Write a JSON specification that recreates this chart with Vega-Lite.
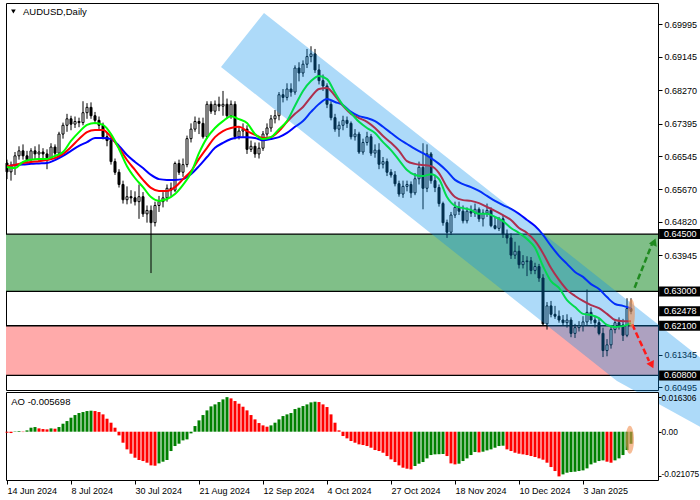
{
"$schema":"https://vega.github.io/schema/vega-lite/v6.json",
"padding":{"left":2,"top":2,"right":0,"bottom":0},
"background":"white",
"spacing":2,
"bounds":"flush",
"config":{"view":{"stroke":"#000000","strokeWidth":1},"axis":{"labelFont":"Liberation Sans","labelFontSize":9,"labelColor":"#000000","tickColor":"#000000","domain":false,"grid":false,"zindex":1},"text":{"font":"Liberation Sans"}},
"resolve":{"scale":{"x":"independent","y":"independent","color":"independent"}},
"datasets":{
"candles":[
{"i":0,"o":0.6636,"h":0.6645,"l":0.6594,"c":0.6613},{"i":1,"o":0.6613,"h":0.6640,"l":0.6590,"c":0.6630},{"i":2,"o":0.6630,"h":0.6665,"l":0.6605,"c":0.6655},{"i":3,"o":0.6655,"h":0.6680,"l":0.6645,"c":0.6668},{"i":4,"o":0.6668,"h":0.6685,"l":0.6645,"c":0.6655},{"i":5,"o":0.6655,"h":0.6668,"l":0.6635,"c":0.6645},{"i":6,"o":0.6645,"h":0.6675,"l":0.6640,"c":0.6668},{"i":7,"o":0.6668,"h":0.6680,"l":0.6645,"c":0.6660},{"i":8,"o":0.6660,"h":0.6685,"l":0.6642,"c":0.6665},{"i":9,"o":0.6665,"h":0.6675,"l":0.6648,"c":0.6660},
{"i":10,"o":0.6660,"h":0.6672,"l":0.6620,"c":0.6650},{"i":11,"o":0.6650,"h":0.6688,"l":0.6645,"c":0.6678},{"i":12,"o":0.6678,"h":0.6685,"l":0.6650,"c":0.6662},{"i":13,"o":0.6662,"h":0.6718,"l":0.6655,"c":0.6712},{"i":14,"o":0.6712,"h":0.6742,"l":0.6700,"c":0.6735},{"i":15,"o":0.6735,"h":0.6765,"l":0.6718,"c":0.6752},{"i":16,"o":0.6752,"h":0.6760,"l":0.6722,"c":0.6738},{"i":17,"o":0.6738,"h":0.6758,"l":0.6728,"c":0.6745},{"i":18,"o":0.6745,"h":0.6755,"l":0.6730,"c":0.6742},{"i":19,"o":0.6742,"h":0.6798,"l":0.6735,"c":0.6768},
{"i":20,"o":0.6768,"h":0.6793,"l":0.6752,"c":0.6782},{"i":21,"o":0.6782,"h":0.6795,"l":0.6752,"c":0.6760},{"i":22,"o":0.6760,"h":0.6770,"l":0.6738,"c":0.6748},{"i":23,"o":0.6748,"h":0.6758,"l":0.6725,"c":0.6735},{"i":24,"o":0.6735,"h":0.6742,"l":0.6698,"c":0.6705},{"i":25,"o":0.6705,"h":0.6715,"l":0.6680,"c":0.6695},{"i":26,"o":0.6695,"h":0.6698,"l":0.6632,"c":0.6640},{"i":27,"o":0.6640,"h":0.6648,"l":0.6605,"c":0.6612},{"i":28,"o":0.6612,"h":0.6620,"l":0.6572,"c":0.6580},{"i":29,"o":0.6580,"h":0.6590,"l":0.6530,"c":0.6540},
{"i":30,"o":0.6540,"h":0.6575,"l":0.6528,"c":0.6548},{"i":31,"o":0.6548,"h":0.6565,"l":0.6530,"c":0.6545},{"i":32,"o":0.6545,"h":0.6562,"l":0.6525,"c":0.6535},{"i":33,"o":0.6535,"h":0.6580,"l":0.6490,"c":0.6548},{"i":34,"o":0.6548,"h":0.6560,"l":0.6495,"c":0.6503},{"i":35,"o":0.6503,"h":0.6525,"l":0.6480,"c":0.6512},{"i":36,"o":0.6512,"h":0.6525,"l":0.6348,"c":0.6480},{"i":37,"o":0.6480,"h":0.6535,"l":0.6470,"c":0.6525},{"i":38,"o":0.6525,"h":0.6550,"l":0.6508,"c":0.6535},{"i":39,"o":0.6535,"h":0.6560,"l":0.6520,"c":0.6545},
{"i":40,"o":0.6545,"h":0.6580,"l":0.6535,"c":0.6570},{"i":41,"o":0.6570,"h":0.6585,"l":0.6550,"c":0.6565},{"i":42,"o":0.6565,"h":0.6640,"l":0.6560,"c":0.6635},{"i":43,"o":0.6635,"h":0.6645,"l":0.6605,"c":0.6612},{"i":44,"o":0.6612,"h":0.6648,"l":0.6600,"c":0.6632},{"i":45,"o":0.6632,"h":0.6708,"l":0.6625,"c":0.6700},{"i":46,"o":0.6700,"h":0.6740,"l":0.6690,"c":0.6725},{"i":47,"o":0.6725,"h":0.6758,"l":0.6718,"c":0.6745},{"i":48,"o":0.6745,"h":0.6755,"l":0.6712,"c":0.6740},{"i":49,"o":0.6740,"h":0.6755,"l":0.6700,"c":0.6705},
{"i":50,"o":0.6705,"h":0.6798,"l":0.6700,"c":0.6790},{"i":51,"o":0.6790,"h":0.6798,"l":0.6765,"c":0.6772},{"i":52,"o":0.6772,"h":0.6800,"l":0.6762,"c":0.6790},{"i":53,"o":0.6790,"h":0.6810,"l":0.6772,"c":0.6785},{"i":54,"o":0.6785,"h":0.6825,"l":0.6760,"c":0.6790},{"i":55,"o":0.6790,"h":0.6805,"l":0.6752,"c":0.6760},{"i":56,"o":0.6760,"h":0.6800,"l":0.6752,"c":0.6790},{"i":57,"o":0.6790,"h":0.6798,"l":0.6698,"c":0.6705},{"i":58,"o":0.6705,"h":0.6732,"l":0.6698,"c":0.6720},{"i":59,"o":0.6720,"h":0.6740,"l":0.6705,"c":0.6725},
{"i":60,"o":0.6725,"h":0.6735,"l":0.6660,"c":0.6672},{"i":61,"o":0.6672,"h":0.6695,"l":0.6665,"c":0.6680},{"i":62,"o":0.6680,"h":0.6690,"l":0.6650,"c":0.6660},{"i":63,"o":0.6660,"h":0.6690,"l":0.6648,"c":0.6675},{"i":64,"o":0.6675,"h":0.6720,"l":0.6668,"c":0.6712},{"i":65,"o":0.6712,"h":0.6740,"l":0.6705,"c":0.6728},{"i":66,"o":0.6728,"h":0.6762,"l":0.6718,"c":0.6752},{"i":67,"o":0.6752,"h":0.6775,"l":0.6740,"c":0.6760},{"i":68,"o":0.6760,"h":0.6822,"l":0.6748,"c":0.6815},{"i":69,"o":0.6815,"h":0.6830,"l":0.6795,"c":0.6808},
{"i":70,"o":0.6808,"h":0.6845,"l":0.6800,"c":0.6830},{"i":71,"o":0.6830,"h":0.6845,"l":0.6810,"c":0.6822},{"i":72,"o":0.6822,"h":0.6892,"l":0.6815,"c":0.6885},{"i":73,"o":0.6885,"h":0.6900,"l":0.6850,"c":0.6872},{"i":74,"o":0.6872,"h":0.6905,"l":0.6862,"c":0.6895},{"i":75,"o":0.6895,"h":0.6935,"l":0.6885,"c":0.6915},{"i":76,"o":0.6915,"h":0.6942,"l":0.6900,"c":0.6922},{"i":77,"o":0.6922,"h":0.6935,"l":0.6872,"c":0.6880},{"i":78,"o":0.6880,"h":0.6895,"l":0.6842,"c":0.6852},{"i":79,"o":0.6852,"h":0.6868,"l":0.6825,"c":0.6838},
{"i":80,"o":0.6838,"h":0.6845,"l":0.6780,"c":0.6790},{"i":81,"o":0.6790,"h":0.6798,"l":0.6748,"c":0.6755},{"i":82,"o":0.6755,"h":0.6765,"l":0.6718,"c":0.6725},{"i":83,"o":0.6725,"h":0.6745,"l":0.6705,"c":0.6735},{"i":84,"o":0.6735,"h":0.6760,"l":0.6722,"c":0.6748},{"i":85,"o":0.6748,"h":0.6758,"l":0.6728,"c":0.6740},{"i":86,"o":0.6740,"h":0.6745,"l":0.6698,"c":0.6705},{"i":87,"o":0.6705,"h":0.6725,"l":0.6695,"c":0.6712},{"i":88,"o":0.6712,"h":0.6718,"l":0.6660,"c":0.6665},{"i":89,"o":0.6665,"h":0.6700,"l":0.6658,"c":0.6690},
{"i":90,"o":0.6690,"h":0.6718,"l":0.6682,"c":0.6705},{"i":91,"o":0.6705,"h":0.6712,"l":0.6655,"c":0.6662},{"i":92,"o":0.6662,"h":0.6685,"l":0.6650,"c":0.6670},{"i":93,"o":0.6670,"h":0.6688,"l":0.6620,"c":0.6633},{"i":94,"o":0.6633,"h":0.6652,"l":0.6622,"c":0.6640},{"i":95,"o":0.6640,"h":0.6648,"l":0.6602,"c":0.6612},{"i":96,"o":0.6612,"h":0.6620,"l":0.6598,"c":0.6605},{"i":97,"o":0.6605,"h":0.6615,"l":0.6575,"c":0.6582},{"i":98,"o":0.6582,"h":0.6590,"l":0.6548,"c":0.6555},{"i":99,"o":0.6555,"h":0.6590,"l":0.6545,"c":0.6575},
{"i":100,"o":0.6575,"h":0.6590,"l":0.6562,"c":0.6580},{"i":101,"o":0.6580,"h":0.6588,"l":0.6545,"c":0.6558},{"i":102,"o":0.6558,"h":0.6610,"l":0.6552,"c":0.6595},{"i":103,"o":0.6595,"h":0.6640,"l":0.6580,"c":0.6625},{"i":104,"o":0.6625,"h":0.6688,"l":0.6515,"c":0.6570},{"i":105,"o":0.6570,"h":0.6685,"l":0.6560,"c":0.6660},{"i":106,"o":0.6660,"h":0.6665,"l":0.6582,"c":0.6590},{"i":107,"o":0.6590,"h":0.6605,"l":0.6560,"c":0.6572},{"i":108,"o":0.6572,"h":0.6580,"l":0.6522,"c":0.6530},{"i":109,"o":0.6530,"h":0.6535,"l":0.6472,"c":0.6480},
{"i":110,"o":0.6480,"h":0.6488,"l":0.6440,"c":0.6455},{"i":111,"o":0.6455,"h":0.6508,"l":0.6448,"c":0.6500},{"i":112,"o":0.6500,"h":0.6535,"l":0.6492,"c":0.6520},{"i":113,"o":0.6520,"h":0.6535,"l":0.6500,"c":0.6510},{"i":114,"o":0.6510,"h":0.6525,"l":0.6478,"c":0.6485},{"i":115,"o":0.6485,"h":0.6520,"l":0.6478,"c":0.6510},{"i":116,"o":0.6510,"h":0.6525,"l":0.6495,"c":0.6505},{"i":117,"o":0.6505,"h":0.6530,"l":0.6495,"c":0.6515},{"i":118,"o":0.6515,"h":0.6520,"l":0.6482,"c":0.6490},{"i":119,"o":0.6490,"h":0.6515,"l":0.6470,"c":0.6505},
{"i":120,"o":0.6505,"h":0.6530,"l":0.6495,"c":0.6512},{"i":121,"o":0.6512,"h":0.6520,"l":0.6468,"c":0.6472},{"i":122,"o":0.6472,"h":0.6495,"l":0.6462,"c":0.6465},{"i":123,"o":0.6465,"h":0.6495,"l":0.6458,"c":0.6490},{"i":124,"o":0.6490,"h":0.6500,"l":0.6440,"c":0.6450},{"i":125,"o":0.6450,"h":0.6462,"l":0.6425,"c":0.6440},{"i":126,"o":0.6440,"h":0.6452,"l":0.6385,"c":0.6395},{"i":127,"o":0.6395,"h":0.6430,"l":0.6385,"c":0.6405},{"i":128,"o":0.6405,"h":0.6420,"l":0.6360,"c":0.6370},{"i":129,"o":0.6370,"h":0.6395,"l":0.6360,"c":0.6378},
{"i":130,"o":0.6378,"h":0.6392,"l":0.6340,"c":0.6380},{"i":131,"o":0.6380,"h":0.6390,"l":0.6345,"c":0.6355},{"i":132,"o":0.6355,"h":0.6375,"l":0.6345,"c":0.6365},{"i":133,"o":0.6365,"h":0.6372,"l":0.6325,"c":0.6335},{"i":134,"o":0.6335,"h":0.6345,"l":0.6210,"c":0.6215},{"i":135,"o":0.6215,"h":0.6272,"l":0.6200,"c":0.6262},{"i":136,"o":0.6262,"h":0.6275,"l":0.6232,"c":0.6240},{"i":137,"o":0.6240,"h":0.6262,"l":0.6228,"c":0.6235},{"i":138,"o":0.6235,"h":0.6250,"l":0.6218,"c":0.6225},{"i":139,"o":0.6225,"h":0.6238,"l":0.6210,"c":0.6218},
{"i":140,"o":0.6218,"h":0.6240,"l":0.6205,"c":0.6225},{"i":141,"o":0.6225,"h":0.6232,"l":0.6180,"c":0.6190},{"i":142,"o":0.6190,"h":0.6215,"l":0.6178,"c":0.6205},{"i":143,"o":0.6205,"h":0.6222,"l":0.6195,"c":0.6210},{"i":144,"o":0.6210,"h":0.6235,"l":0.6195,"c":0.6220},{"i":145,"o":0.6220,"h":0.6305,"l":0.6210,"c":0.6245},{"i":146,"o":0.6245,"h":0.6258,"l":0.6215,"c":0.6225},{"i":147,"o":0.6225,"h":0.6235,"l":0.6205,"c":0.6218},{"i":148,"o":0.6218,"h":0.6230,"l":0.6185,"c":0.6190},{"i":149,"o":0.6190,"h":0.6205,"l":0.6128,"c":0.6145},
{"i":150,"o":0.6145,"h":0.6175,"l":0.6130,"c":0.6160},{"i":151,"o":0.6160,"h":0.6210,"l":0.6150,"c":0.6200},{"i":152,"o":0.6200,"h":0.6228,"l":0.6190,"c":0.6218},{"i":153,"o":0.6218,"h":0.6232,"l":0.6200,"c":0.6212},{"i":154,"o":0.6212,"h":0.6228,"l":0.6170,"c":0.6185},{"i":155,"o":0.6185,"h":0.6282,"l":0.6180,"c":0.6255},{"i":156,"o":0.6255,"h":0.6282,"l":0.6240,"c":0.62478}
],
"ma":[
{"i":0,"g":0.6626,"r":0.6628,"b":0.6626},{"i":2,"g":0.6623,"r":0.6631,"b":0.6631},{"i":4,"g":0.6639,"r":0.6636,"b":0.6632},{"i":6,"g":0.6645,"r":0.6639,"b":0.6634},{"i":8,"g":0.6647,"r":0.6641,"b":0.6635},{"i":10,"g":0.6647,"r":0.6644,"b":0.6636},{"i":12,"g":0.6655,"r":0.6649,"b":0.6644},{"i":14,"g":0.6665,"r":0.6660,"b":0.6655},{"i":16,"g":0.6694,"r":0.6678,"b":0.6668},{"i":18,"g":0.6717,"r":0.6699,"b":0.6681},
{"i":20,"g":0.6736,"r":0.6717,"b":0.6691},{"i":22,"g":0.6741,"r":0.6723,"b":0.6702},{"i":24,"g":0.6736,"r":0.6723,"b":0.6702},{"i":26,"g":0.6712,"r":0.6704,"b":0.6699},{"i":28,"g":0.6673,"r":0.6676,"b":0.6681},{"i":30,"g":0.6628,"r":0.6644,"b":0.6657},{"i":32,"g":0.6597,"r":0.6618,"b":0.6639},{"i":34,"g":0.6573,"r":0.6592,"b":0.6623},{"i":36,"g":0.6547,"r":0.6571,"b":0.6605},{"i":38,"g":0.6537,"r":0.6563,"b":0.6594},
{"i":40,"g":0.6542,"r":0.6563,"b":0.6592},{"i":42,"g":0.6555,"r":0.6573,"b":0.6592},{"i":44,"g":0.6579,"r":0.6594,"b":0.6594},{"i":46,"g":0.6610,"r":0.6615,"b":0.6607},{"i":48,"g":0.6662,"r":0.6647,"b":0.6628},{"i":50,"g":0.6702,"r":0.6676,"b":0.6652},{"i":52,"g":0.6728,"r":0.6704,"b":0.6676},{"i":54,"g":0.6746,"r":0.6720,"b":0.6689},{"i":56,"g":0.6759,"r":0.6728,"b":0.6699},{"i":58,"g":0.6751,"r":0.6731,"b":0.6704},
{"i":60,"g":0.6741,"r":0.6720,"b":0.6704},{"i":62,"g":0.6712,"r":0.6710,"b":0.6702},{"i":64,"g":0.6699,"r":0.6702,"b":0.6696},{"i":66,"g":0.6704,"r":0.6704,"b":0.6699},{"i":68,"g":0.6725,"r":0.6720,"b":0.6704},{"i":70,"g":0.6746,"r":0.6744,"b":0.6715},{"i":72,"g":0.6786,"r":0.6765,"b":0.6731},{"i":74,"g":0.6825,"r":0.6783,"b":0.6746},{"i":76,"g":0.6851,"r":0.6809,"b":0.6770},{"i":78,"g":0.6864,"r":0.6830,"b":0.6791},
{"i":80,"g":0.6856,"r":0.6833,"b":0.6804},{"i":82,"g":0.6820,"r":0.6812,"b":0.6796},{"i":84,"g":0.6788,"r":0.6786,"b":0.6788},{"i":86,"g":0.6767,"r":0.6765,"b":0.6770},{"i":88,"g":0.6744,"r":0.6754,"b":0.6759},{"i":90,"g":0.6728,"r":0.6744,"b":0.6754},{"i":92,"g":0.6715,"r":0.6728,"b":0.6746},{"i":94,"g":0.6691,"r":0.6707,"b":0.6731},{"i":96,"g":0.6670,"r":0.6689,"b":0.6715},{"i":98,"g":0.6644,"r":0.6668,"b":0.6699},
{"i":100,"g":0.6618,"r":0.6641,"b":0.6686},{"i":102,"g":0.6605,"r":0.6634,"b":0.6673},{"i":104,"g":0.6602,"r":0.6631,"b":0.6662},{"i":106,"g":0.6607,"r":0.6628,"b":0.6649},{"i":108,"g":0.6594,"r":0.6610,"b":0.6634},{"i":110,"g":0.6547,"r":0.6573,"b":0.6615},{"i":112,"g":0.6524,"r":0.6547,"b":0.6592},{"i":114,"g":0.6518,"r":0.6539,"b":0.6581},{"i":116,"g":0.6513,"r":0.6537,"b":0.6573},{"i":118,"g":0.6503,"r":0.6531,"b":0.6563},
{"i":120,"g":0.6503,"r":0.6521,"b":0.6550},{"i":122,"g":0.6495,"r":0.6511,"b":0.6537},{"i":124,"g":0.6484,"r":0.6500,"b":0.6526},{"i":126,"g":0.6466,"r":0.6487,"b":0.6516},{"i":128,"g":0.6453,"r":0.6466,"b":0.6503},{"i":130,"g":0.6437,"r":0.6453,"b":0.6487},{"i":132,"g":0.6414,"r":0.6432,"b":0.6471},{"i":134,"g":0.6366,"r":0.6400,"b":0.6448},{"i":136,"g":0.6327,"r":0.6361,"b":0.6419},{"i":138,"g":0.6309,"r":0.6330,"b":0.6393},
{"i":140,"g":0.6277,"r":0.6304,"b":0.6372},{"i":142,"g":0.6259,"r":0.6288,"b":0.6351},{"i":144,"g":0.6241,"r":0.6275,"b":0.6338},{"i":146,"g":0.6238,"r":0.6264,"b":0.6319},{"i":148,"g":0.6230,"r":0.6256,"b":0.6306},{"i":150,"g":0.6212,"r":0.6241,"b":0.6285},{"i":152,"g":0.6207,"r":0.6225,"b":0.6267},{"i":154,"g":0.6209,"r":0.6222,"b":0.6262},{"i":156,"g":0.6217,"r":0.6222,"b":0.6256}
],
"ao":[
{"i":0,"v":-0.00047,"dir":"dn"},{"i":1,"v":-0.00063,"dir":"dn"},{"i":2,"v":0.00016,"dir":"up"},{"i":3,"v":0.00031,"dir":"up"},{"i":4,"v":-0.00016,"dir":"dn"},{"i":5,"v":0.00063,"dir":"up"},{"i":6,"v":0.00189,"dir":"up"},{"i":7,"v":0.0022,"dir":"up"},{"i":8,"v":0.00157,"dir":"dn"},{"i":9,"v":0.00126,"dir":"dn"},
{"i":10,"v":0.0011,"dir":"dn"},{"i":11,"v":0.00157,"dir":"up"},{"i":12,"v":0.00142,"dir":"dn"},{"i":13,"v":0.0022,"dir":"up"},{"i":14,"v":0.00377,"dir":"up"},{"i":15,"v":0.00503,"dir":"up"},{"i":16,"v":0.0066,"dir":"up"},{"i":17,"v":0.00786,"dir":"up"},{"i":18,"v":0.00881,"dir":"up"},{"i":19,"v":0.00928,"dir":"up"},
{"i":20,"v":0.00975,"dir":"up"},{"i":21,"v":0.00991,"dir":"up"},{"i":22,"v":0.00975,"dir":"dn"},{"i":23,"v":0.00928,"dir":"dn"},{"i":24,"v":0.00818,"dir":"dn"},{"i":25,"v":0.00613,"dir":"dn"},{"i":26,"v":0.00425,"dir":"dn"},{"i":27,"v":0.00189,"dir":"dn"},{"i":28,"v":-0.00173,"dir":"dn"},{"i":29,"v":-0.00519,"dir":"dn"},
{"i":30,"v":-0.00833,"dir":"dn"},{"i":31,"v":-0.01038,"dir":"dn"},{"i":32,"v":-0.01226,"dir":"dn"},{"i":33,"v":-0.01336,"dir":"dn"},{"i":34,"v":-0.01384,"dir":"dn"},{"i":35,"v":-0.01462,"dir":"dn"},{"i":36,"v":-0.01588,"dir":"dn"},{"i":37,"v":-0.01604,"dir":"dn"},{"i":38,"v":-0.01494,"dir":"up"},{"i":39,"v":-0.01415,"dir":"up"},
{"i":40,"v":-0.01336,"dir":"up"},{"i":41,"v":-0.00912,"dir":"up"},{"i":42,"v":-0.00676,"dir":"up"},{"i":43,"v":-0.00566,"dir":"up"},{"i":44,"v":-0.00409,"dir":"up"},{"i":45,"v":-0.00362,"dir":"up"},{"i":46,"v":-0.00079,"dir":"up"},{"i":47,"v":0.00267,"dir":"up"},{"i":48,"v":0.00535,"dir":"up"},{"i":49,"v":0.00786,"dir":"up"},
{"i":50,"v":0.01006,"dir":"up"},{"i":51,"v":0.01195,"dir":"up"},{"i":52,"v":0.01289,"dir":"up"},{"i":53,"v":0.01399,"dir":"up"},{"i":54,"v":0.01525,"dir":"up"},{"i":55,"v":0.01631,"dir":"up"},{"i":56,"v":0.01572,"dir":"dn"},{"i":57,"v":0.01447,"dir":"dn"},{"i":58,"v":0.01321,"dir":"dn"},{"i":59,"v":0.01179,"dir":"dn"},
{"i":60,"v":0.01006,"dir":"dn"},{"i":61,"v":0.00786,"dir":"dn"},{"i":62,"v":0.00582,"dir":"dn"},{"i":63,"v":0.00409,"dir":"dn"},{"i":64,"v":0.00299,"dir":"dn"},{"i":65,"v":0.00236,"dir":"dn"},{"i":66,"v":0.00299,"dir":"up"},{"i":67,"v":0.00425,"dir":"up"},{"i":68,"v":0.00582,"dir":"up"},{"i":69,"v":0.00739,"dir":"up"},
{"i":70,"v":0.00818,"dir":"up"},{"i":71,"v":0.00881,"dir":"up"},{"i":72,"v":0.01069,"dir":"up"},{"i":73,"v":0.01132,"dir":"up"},{"i":74,"v":0.01211,"dir":"up"},{"i":75,"v":0.01289,"dir":"up"},{"i":76,"v":0.01384,"dir":"up"},{"i":77,"v":0.01415,"dir":"up"},{"i":78,"v":0.01399,"dir":"dn"},{"i":79,"v":0.01289,"dir":"dn"},
{"i":80,"v":0.01164,"dir":"dn"},{"i":81,"v":0.00818,"dir":"dn"},{"i":82,"v":0.00425,"dir":"dn"},{"i":83,"v":0.00063,"dir":"dn"},{"i":84,"v":-0.00204,"dir":"dn"},{"i":85,"v":-0.00314,"dir":"dn"},{"i":86,"v":-0.0044,"dir":"dn"},{"i":87,"v":-0.00519,"dir":"dn"},{"i":88,"v":-0.00597,"dir":"dn"},{"i":89,"v":-0.00629,"dir":"dn"},
{"i":90,"v":-0.00676,"dir":"dn"},{"i":91,"v":-0.00755,"dir":"dn"},{"i":92,"v":-0.00865,"dir":"dn"},{"i":93,"v":-0.00912,"dir":"dn"},{"i":94,"v":-0.00991,"dir":"dn"},{"i":95,"v":-0.01148,"dir":"dn"},{"i":96,"v":-0.01305,"dir":"dn"},{"i":97,"v":-0.01431,"dir":"dn"},{"i":98,"v":-0.01588,"dir":"dn"},{"i":99,"v":-0.01698,"dir":"dn"},
{"i":100,"v":-0.01745,"dir":"dn"},{"i":101,"v":-0.01777,"dir":"dn"},{"i":102,"v":-0.01619,"dir":"up"},{"i":103,"v":-0.01509,"dir":"up"},{"i":104,"v":-0.01431,"dir":"up"},{"i":105,"v":-0.01258,"dir":"up"},{"i":106,"v":-0.01101,"dir":"up"},{"i":107,"v":-0.01069,"dir":"up"},{"i":108,"v":-0.01061,"dir":"up"},{"i":109,"v":-0.01053,"dir":"up"},
{"i":110,"v":-0.01148,"dir":"dn"},{"i":111,"v":-0.01494,"dir":"dn"},{"i":112,"v":-0.01541,"dir":"dn"},{"i":113,"v":-0.01509,"dir":"up"},{"i":114,"v":-0.01384,"dir":"up"},{"i":115,"v":-0.01258,"dir":"up"},{"i":116,"v":-0.01101,"dir":"up"},{"i":117,"v":-0.00959,"dir":"up"},{"i":118,"v":-0.00975,"dir":"dn"},{"i":119,"v":-0.00943,"dir":"up"},
{"i":120,"v":-0.00881,"dir":"up"},{"i":121,"v":-0.00833,"dir":"up"},{"i":122,"v":-0.00755,"dir":"up"},{"i":123,"v":-0.00676,"dir":"up"},{"i":124,"v":-0.0066,"dir":"up"},{"i":125,"v":-0.00833,"dir":"dn"},{"i":126,"v":-0.00912,"dir":"dn"},{"i":127,"v":-0.00991,"dir":"dn"},{"i":128,"v":-0.01038,"dir":"dn"},{"i":129,"v":-0.01069,"dir":"dn"},
{"i":130,"v":-0.01101,"dir":"dn"},{"i":131,"v":-0.01148,"dir":"dn"},{"i":132,"v":-0.01195,"dir":"dn"},{"i":133,"v":-0.01258,"dir":"dn"},{"i":134,"v":-0.01321,"dir":"dn"},{"i":135,"v":-0.01462,"dir":"dn"},{"i":136,"v":-0.01667,"dir":"dn"},{"i":137,"v":-0.01855,"dir":"dn"},{"i":138,"v":-0.02108,"dir":"dn"},{"i":139,"v":-0.02013,"dir":"up"},
{"i":140,"v":-0.01934,"dir":"up"},{"i":141,"v":-0.01903,"dir":"up"},{"i":142,"v":-0.01887,"dir":"up"},{"i":143,"v":-0.01855,"dir":"up"},{"i":144,"v":-0.01824,"dir":"up"},{"i":145,"v":-0.0173,"dir":"up"},{"i":146,"v":-0.01541,"dir":"up"},{"i":147,"v":-0.01462,"dir":"up"},{"i":148,"v":-0.01384,"dir":"up"},{"i":149,"v":-0.01352,"dir":"up"},
{"i":150,"v":-0.01415,"dir":"dn"},{"i":151,"v":-0.01462,"dir":"dn"},{"i":152,"v":-0.01352,"dir":"up"},{"i":153,"v":-0.01258,"dir":"up"},{"i":154,"v":-0.01101,"dir":"up"},{"i":155,"v":-0.00865,"dir":"up"},{"i":156,"v":-0.0057,"dir":"up"}
],
"zones":[{"lo":0.63,"hi":0.645,"kind":"buy"},{"lo":0.608,"hi":0.621,"kind":"sell"}],
"levels":[{"p":0.645},{"p":0.63},{"p":0.621},{"p":0.608}],
"tags":[{"p":0.645,"t":"0.64500"},{"p":0.63,"t":"0.63000"},{"p":0.62478,"t":"0.62478"},{"p":0.621,"t":"0.62100"},{"p":0.608,"t":"0.60800"}],
"channel":[{"i":53.5,"top":0.68877,"bot":0.68877},{"i":64.25,"top":0.70291,"bot":0.67986},{"i":152.5,"top":0.62986,"bot":0.60653},{"i":174.25,"top":0.61187,"bot":0.59396}],
"arrows":[{"i":156.9,"p":0.63096,"i2":161.25,"p2":0.64241,"kind":"up"},{"i":156.3,"p":0.62138,"i2":160.5,"p2":0.61177,"kind":"down"}],
"heads":[{"i":161.8,"p":0.6430,"kind":"up"},{"i":161.2,"p":0.6107,"kind":"down"}]
},
"vconcat":[
{
"width":652,"height":387,
"layer":[
{"data":{"name":"zones"},"transform":[{"filter":"datum.kind == 'buy'"}],"mark":{"type":"rect","color":"#80bf88"},
 "encoding":{
  "x":{"datum":-0.25,"type":"quantitative","scale":{"domain":[-0.25,162.75],"nice":false,"zero":false,"padding":0},"axis":null},
  "x2":{"datum":162.75},
  "y":{"field":"lo","type":"quantitative","scale":{"domain":[0.60417,0.70553],"nice":false,"zero":false,"padding":0},"title":null,
       "axis":{"orient":"right","values":[0.69995,0.69145,0.6827,0.67395,0.66545,0.6567,0.6482,0.63945,0.61345,0.60495],"format":".5f","tickSize":4,"labelPadding":2,"title":null}},
  "y2":{"field":"hi"}}},
{"data":{"name":"zones"},"transform":[{"filter":"datum.kind == 'sell'"}],"mark":{"type":"rect","color":"#ffaaaa"},
 "encoding":{"x":{"datum":-0.25,"type":"quantitative","axis":null},"x2":{"datum":162.75},"y":{"field":"lo","type":"quantitative","title":null},"y2":{"field":"hi"}}},
{"data":{"name":"levels"},"mark":{"type":"rule","color":"#000000","strokeWidth":1.3},
 "encoding":{"y":{"field":"p","type":"quantitative","title":null}}},
{"data":{"name":"candles"},"mark":{"type":"rule","color":"#000000","strokeWidth":1},
 "encoding":{"x":{"field":"i","type":"quantitative","axis":null,"title":null},"y":{"field":"l","type":"quantitative","title":null},"y2":{"field":"h"}}},
{"data":{"name":"candles"},"mark":{"type":"bar","width":2,"stroke":"#000000","strokeWidth":1},
 "encoding":{"x":{"field":"i","type":"quantitative","axis":null,"title":null},"y":{"field":"o","type":"quantitative","title":null},"y2":{"field":"c"},
  "fill":{"condition":{"test":"datum.c >= datum.o","value":"#ffffff"},"value":"#000000"}}},
{"data":{"name":"ma"},"mark":{"type":"line","color":"#0000ff","strokeWidth":2,"interpolate":"monotone"},
 "encoding":{"x":{"field":"i","type":"quantitative","axis":null,"title":null},"y":{"field":"b","type":"quantitative","title":null}}},
{"data":{"name":"ma"},"mark":{"type":"line","color":"#ff0000","strokeWidth":2,"interpolate":"monotone"},
 "encoding":{"x":{"field":"i","type":"quantitative","axis":null,"title":null},"y":{"field":"r","type":"quantitative","title":null}}},
{"data":{"name":"ma"},"mark":{"type":"line","color":"#00ff00","strokeWidth":2,"interpolate":"monotone"},
 "encoding":{"x":{"field":"i","type":"quantitative","axis":null,"title":null},"y":{"field":"g","type":"quantitative","title":null}}},
{"data":{"name":"channel"},"mark":{"type":"area","color":"#078fed","opacity":0.33},
 "encoding":{"x":{"field":"i","type":"quantitative","axis":null,"title":null},"y":{"field":"top","type":"quantitative","title":null},"y2":{"field":"bot"}}},
{"data":{"name":"arrows"},"transform":[{"filter":"datum.kind == 'up'"}],"mark":{"type":"rule","strokeWidth":2.5,"strokeDash":[6,3],"color":"#1f8a1f"},
 "encoding":{"x":{"field":"i","type":"quantitative","axis":null,"title":null},"x2":{"field":"i2"},"y":{"field":"p","type":"quantitative","title":null},"y2":{"field":"p2"}}},
{"data":{"name":"arrows"},"transform":[{"filter":"datum.kind == 'down'"}],"mark":{"type":"rule","strokeWidth":2.5,"strokeDash":[6,3],"color":"#ff1a1a"},
 "encoding":{"x":{"field":"i","type":"quantitative","axis":null,"title":null},"x2":{"field":"i2"},"y":{"field":"p","type":"quantitative","title":null},"y2":{"field":"p2"}}},
{"data":{"name":"heads"},"transform":[{"filter":"datum.kind == 'up'"}],"mark":{"type":"point","shape":"triangle-up","filled":true,"size":70,"angle":22,"color":"#1f8a1f","opacity":1},
 "encoding":{"x":{"field":"i","type":"quantitative","axis":null,"title":null},"y":{"field":"p","type":"quantitative","title":null}}},
{"data":{"name":"heads"},"transform":[{"filter":"datum.kind == 'down'"}],"mark":{"type":"point","shape":"triangle-down","filled":true,"size":70,"angle":334,"color":"#ff1a1a","opacity":1},
 "encoding":{"x":{"field":"i","type":"quantitative","axis":null,"title":null},"y":{"field":"p","type":"quantitative","title":null}}},
{"data":{"values":[{"i":156.1,"p":0.6242}]},"mark":{"type":"point","shape":"M0,-1 A0.24,1 0 1,1 0,1 A0.24,1 0 1,1 0,-1 Z","filled":true,"size":841,"color":"#f09050","opacity":0.6},
 "encoding":{"x":{"field":"i","type":"quantitative","axis":null,"title":null},"y":{"field":"p","type":"quantitative","title":null}}},
{"data":{"values":[{"t":"AUDUSD,Daily"}]},"mark":{"type":"text","align":"left","baseline":"middle","fontSize":9.5,"color":"#000000"},
 "encoding":{"x":{"datum":4,"type":"quantitative","axis":null},"y":{"datum":0.70325,"type":"quantitative","title":null},"text":{"field":"t"}}},
{"data":{"values":[{"t":"menu"}]},"mark":{"type":"point","shape":"triangle-down","filled":true,"size":22,"color":"#000000","opacity":1},
 "encoding":{"x":{"datum":1.6,"type":"quantitative","axis":null},"y":{"datum":0.7033,"type":"quantitative","title":null}}},
{"data":{"name":"tags"},"mark":{"type":"tick","orient":"horizontal","size":43,"thickness":10,"color":"#000000","opacity":1},
 "encoding":{"x":{"datum":168.4,"type":"quantitative","axis":null},"y":{"field":"p","type":"quantitative","title":null}}},
{"data":{"name":"tags"},"mark":{"type":"text","align":"left","baseline":"middle","fontSize":9,"color":"#ffffff"},
 "encoding":{"x":{"datum":164.25,"type":"quantitative","axis":null},"y":{"field":"p","type":"quantitative","title":null},"text":{"field":"t"}}}
]
},
{
"width":652,"height":88,
"view":{"fill":"#ffffff","stroke":"#000000"},
"layer":[
{"data":{"name":"ao"},"mark":{"type":"bar","width":3},
 "encoding":{
  "x":{"field":"i","type":"quantitative","scale":{"domain":[-0.25,162.75],"nice":false,"zero":false,"padding":0},"title":null,
       "axis":{"orient":"bottom","values":[0,16,32,48,64,80,96,112,128,144],"labelExpr":"['14 Jun 2024','8 Jul 2024','30 Jul 2024','21 Aug 2024','12 Sep 2024','4 Oct 2024','27 Oct 2024','18 Nov 2024','10 Dec 2024','3 Jan 2025'][round(datum.value/16)]","labelAlign":"left","labelBaseline":"top","tickSize":4,"labelPadding":2,"labelFlush":false,"labelOverlap":false,"title":null}},
  "y":{"field":"v","type":"quantitative","scale":{"domain":[-0.02278,0.01873],"nice":false,"zero":false,"padding":0},"title":null,
       "axis":{"orient":"right","values":[0.016306,0,-0.021075],"labelExpr":"datum.value == 0 ? '0.00' : (datum.value < 0 ? '-' : '') + format(abs(datum.value), '.6f')","tickSize":3,"labelPadding":0,"labelFontSize":8.4,"labelAlign":"left","labelBaseline":{"condition":{"test":"datum.value < 0","value":"alphabetic"},"value":"middle"},"title":null}},
  "y2":{"datum":0},
  "color":{"condition":{"test":"datum.dir == 'up'","value":"#008000"},"value":"#ff0000"}}},
{"data":{"values":[{"i":155.7,"v":-0.00382}]},"mark":{"type":"point","shape":"M0,-1 A0.3,1 0 1,1 0,1 A0.3,1 0 1,1 0,-1 Z","filled":true,"size":784,"color":"#f09050","opacity":0.6},
 "encoding":{"x":{"field":"i","type":"quantitative","title":null},"y":{"field":"v","type":"quantitative","title":null}}},
{"data":{"values":[{"t":"AO -0.005698"}]},"mark":{"type":"text","align":"left","baseline":"middle","fontSize":9.5,"color":"#000000"},
 "encoding":{"x":{"datum":1.07,"type":"quantitative"},"y":{"datum":0.01415,"type":"quantitative"},"text":{"field":"t"}}}
]
}
]
}
